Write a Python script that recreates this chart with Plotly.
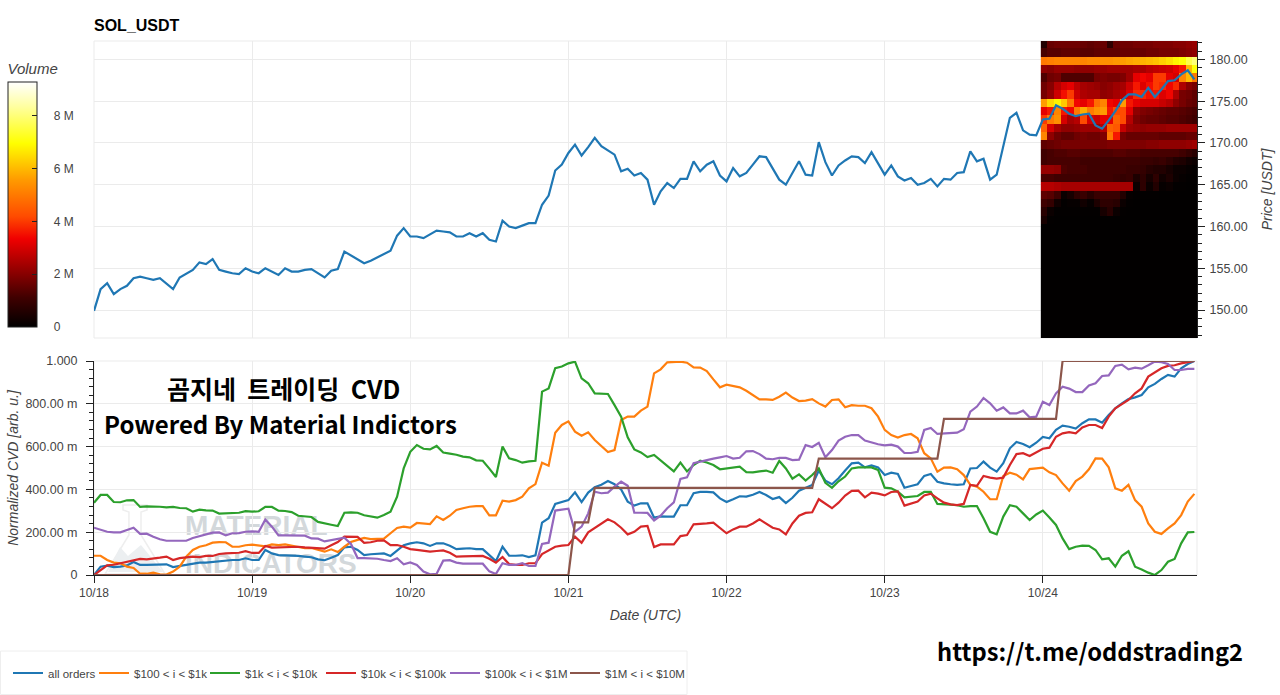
#!/usr/bin/env python3
"""SOL_USDT price with order book heatmap, and normalized CVD by order size."""

import pandas as pd
import plotly.graph_objects as go

# hourly prices, 10/18 00:00 to 10/24 23:00
PRICE = [
    149.9, 152.5, 153.2, 151.9, 152.5, 152.9, 153.8, 154.0, 153.8, 153.6, 153.8, 153.1,
    152.5, 153.9, 154.4, 154.8, 155.7, 155.5, 156.1, 154.8, 154.6, 154.4, 154.3, 155.0,
    154.6, 154.4, 155.0, 154.6, 154.2, 155.0, 154.6, 154.6, 154.8, 154.9, 154.4, 153.9,
    154.7, 154.9, 157.0, 156.5, 156.1, 155.6, 155.9, 156.3, 156.8, 157.1, 158.9, 159.8,
    158.8, 158.8, 158.6, 159.1, 159.5, 159.4, 159.3, 158.8, 158.8, 159.2, 158.8, 159.2,
    158.4, 158.2, 160.7, 160.0, 159.8, 160.1, 160.4, 160.4, 162.6, 163.7, 166.7, 167.4,
    168.8, 169.8, 168.5, 169.5, 170.6, 169.6, 169.1, 168.6, 166.6, 166.9, 166.1, 166.4,
    165.6, 162.6, 164.2, 165.2, 164.6, 165.7, 165.7, 167.8, 166.6, 167.4, 167.8, 166.1,
    165.4, 167.0, 166.0, 166.4, 167.4, 168.4, 168.3, 167.0, 165.6, 165.0, 166.4, 167.8,
    166.2, 166.1, 170.1, 167.7, 166.1, 167.3, 167.9, 168.4, 168.3, 167.6, 168.9, 167.5,
    166.2, 167.3, 166.0, 165.5, 165.8, 165.0, 165.2, 165.7, 164.8, 165.7, 165.6, 166.4,
    166.5, 169.0, 167.8, 168.1, 165.6, 166.2, 169.6, 173.0, 173.6, 171.5, 171.0, 170.9,
    172.8, 172.9, 174.5, 174.1, 173.5, 173.2, 173.4, 173.5, 172.1, 171.7, 172.7, 173.8,
    175.1, 175.8, 175.8, 175.5, 176.6, 175.5, 176.4, 177.4, 177.5, 178.2, 178.7, 177.6,
]

ALL_ORDERS = [
    0.000, 0.039, 0.044, 0.037, 0.039, 0.045, 0.061, 0.047, 0.047, 0.047, 0.048, 0.050,
    0.037, 0.042, 0.050, 0.055, 0.058, 0.058, 0.061, 0.067, 0.069, 0.070, 0.070, 0.078,
    0.070, 0.070, 0.117, 0.101, 0.093, 0.092, 0.093, 0.089, 0.086, 0.083, 0.073, 0.069,
    0.081, 0.093, 0.129, 0.132, 0.117, 0.093, 0.097, 0.100, 0.101, 0.089, 0.112, 0.139,
    0.148, 0.153, 0.148, 0.136, 0.148, 0.148, 0.137, 0.121, 0.123, 0.125, 0.121, 0.121,
    0.093, 0.065, 0.132, 0.090, 0.090, 0.092, 0.084, 0.092, 0.245, 0.265, 0.332, 0.340,
    0.350, 0.386, 0.341, 0.385, 0.410, 0.422, 0.439, 0.424, 0.400, 0.343, 0.324, 0.335,
    0.335, 0.268, 0.274, 0.273, 0.273, 0.326, 0.326, 0.382, 0.388, 0.388, 0.386, 0.358,
    0.341, 0.354, 0.368, 0.366, 0.375, 0.388, 0.374, 0.355, 0.364, 0.336, 0.361, 0.394,
    0.407, 0.421, 0.488, 0.441, 0.424, 0.452, 0.488, 0.522, 0.525, 0.503, 0.512, 0.503,
    0.467, 0.478, 0.472, 0.408, 0.416, 0.424, 0.463, 0.472, 0.436, 0.428, 0.424, 0.421,
    0.424, 0.498, 0.500, 0.530, 0.502, 0.483, 0.522, 0.592, 0.622, 0.612, 0.597, 0.618,
    0.645, 0.639, 0.678, 0.698, 0.693, 0.684, 0.709, 0.727, 0.727, 0.712, 0.748, 0.779,
    0.802, 0.822, 0.830, 0.841, 0.877, 0.893, 0.916, 0.935, 0.927, 0.966, 0.986, 1.000,
]

ORDERS_100_1K = [
    0.090, 0.090, 0.070, 0.058, 0.055, 0.039, 0.033, 0.006, 0.006, 0.011, 0.003, 0.002,
    0.016, 0.039, 0.086, 0.117, 0.132, 0.139, 0.151, 0.154, 0.153, 0.132, 0.132, 0.139,
    0.142, 0.139, 0.134, 0.143, 0.140, 0.143, 0.137, 0.131, 0.125, 0.126, 0.117, 0.109,
    0.120, 0.107, 0.132, 0.154, 0.164, 0.173, 0.168, 0.168, 0.170, 0.195, 0.220, 0.226,
    0.221, 0.243, 0.241, 0.238, 0.274, 0.257, 0.277, 0.304, 0.312, 0.319, 0.322, 0.322,
    0.279, 0.279, 0.347, 0.343, 0.350, 0.366, 0.405, 0.425, 0.525, 0.511, 0.665, 0.701,
    0.718, 0.670, 0.651, 0.667, 0.631, 0.604, 0.575, 0.584, 0.724, 0.740, 0.740, 0.768,
    0.787, 0.942, 0.961, 0.994, 0.994, 0.997, 0.992, 0.970, 0.969, 0.953, 0.914, 0.877,
    0.889, 0.883, 0.877, 0.861, 0.841, 0.821, 0.821, 0.818, 0.833, 0.852, 0.829, 0.813,
    0.815, 0.822, 0.802, 0.787, 0.818, 0.821, 0.784, 0.794, 0.791, 0.791, 0.779, 0.740,
    0.678, 0.654, 0.642, 0.654, 0.659, 0.639, 0.569, 0.545, 0.483, 0.502, 0.503, 0.494,
    0.467, 0.421, 0.413, 0.389, 0.354, 0.354, 0.463, 0.478, 0.469, 0.447, 0.495, 0.500,
    0.502, 0.480, 0.467, 0.428, 0.394, 0.439, 0.460, 0.494, 0.545, 0.544, 0.503, 0.405,
    0.394, 0.421, 0.350, 0.319, 0.241, 0.202, 0.192, 0.218, 0.241, 0.280, 0.343, 0.379,
]

ORDERS_1K_10K = [
    0.338, 0.374, 0.374, 0.341, 0.340, 0.349, 0.350, 0.318, 0.321, 0.321, 0.319, 0.316,
    0.318, 0.313, 0.312, 0.296, 0.305, 0.302, 0.301, 0.287, 0.288, 0.290, 0.291, 0.298,
    0.296, 0.298, 0.318, 0.318, 0.301, 0.299, 0.294, 0.277, 0.273, 0.271, 0.248, 0.240,
    0.235, 0.229, 0.291, 0.293, 0.291, 0.279, 0.274, 0.268, 0.280, 0.296, 0.366, 0.498,
    0.576, 0.607, 0.590, 0.587, 0.603, 0.572, 0.567, 0.562, 0.553, 0.550, 0.536, 0.534,
    0.497, 0.458, 0.600, 0.545, 0.537, 0.525, 0.531, 0.534, 0.857, 0.872, 0.966, 0.974,
    0.989, 0.997, 0.919, 0.896, 0.849, 0.847, 0.846, 0.794, 0.740, 0.643, 0.587, 0.573,
    0.551, 0.561, 0.534, 0.509, 0.484, 0.525, 0.484, 0.514, 0.534, 0.526, 0.514, 0.494,
    0.497, 0.500, 0.506, 0.481, 0.480, 0.484, 0.488, 0.478, 0.533, 0.498, 0.450, 0.470,
    0.441, 0.467, 0.498, 0.431, 0.407, 0.438, 0.460, 0.498, 0.503, 0.503, 0.503, 0.491,
    0.408, 0.405, 0.389, 0.363, 0.366, 0.369, 0.388, 0.388, 0.332, 0.332, 0.329, 0.326,
    0.319, 0.322, 0.322, 0.265, 0.202, 0.190, 0.273, 0.326, 0.319, 0.288, 0.257, 0.283,
    0.301, 0.269, 0.234, 0.171, 0.121, 0.132, 0.137, 0.136, 0.117, 0.073, 0.078, 0.039,
    0.090, 0.111, 0.039, 0.026, 0.011, 0.000, 0.023, 0.062, 0.075, 0.148, 0.199, 0.201,
]

ORDERS_10K_100K = [
    0.000, 0.023, 0.045, 0.048, 0.055, 0.059, 0.067, 0.075, 0.073, 0.076, 0.081, 0.086,
    0.070, 0.079, 0.081, 0.086, 0.084, 0.089, 0.089, 0.098, 0.101, 0.103, 0.104, 0.111,
    0.103, 0.103, 0.136, 0.128, 0.129, 0.132, 0.132, 0.132, 0.129, 0.126, 0.123, 0.123,
    0.139, 0.154, 0.179, 0.179, 0.178, 0.150, 0.153, 0.160, 0.162, 0.140, 0.140, 0.132,
    0.121, 0.117, 0.112, 0.109, 0.112, 0.115, 0.104, 0.086, 0.087, 0.087, 0.089, 0.089,
    0.076, 0.058, 0.084, 0.051, 0.047, 0.047, 0.055, 0.055, 0.098, 0.117, 0.132, 0.137,
    0.140, 0.179, 0.151, 0.199, 0.218, 0.241, 0.260, 0.246, 0.221, 0.190, 0.202, 0.226,
    0.229, 0.131, 0.143, 0.143, 0.143, 0.182, 0.187, 0.237, 0.238, 0.241, 0.245, 0.218,
    0.195, 0.213, 0.226, 0.226, 0.241, 0.260, 0.241, 0.221, 0.213, 0.190, 0.241, 0.277,
    0.290, 0.293, 0.354, 0.335, 0.312, 0.338, 0.371, 0.393, 0.394, 0.363, 0.385, 0.380,
    0.372, 0.388, 0.391, 0.324, 0.333, 0.343, 0.372, 0.380, 0.358, 0.338, 0.330, 0.327,
    0.332, 0.421, 0.417, 0.463, 0.455, 0.450, 0.455, 0.514, 0.565, 0.569, 0.556, 0.575,
    0.590, 0.595, 0.646, 0.662, 0.668, 0.662, 0.690, 0.701, 0.701, 0.687, 0.740, 0.779,
    0.798, 0.818, 0.849, 0.872, 0.927, 0.946, 0.966, 0.977, 0.980, 0.989, 0.995, 1.000,
]

ORDERS_100K_1M = [
    0.221, 0.210, 0.202, 0.199, 0.199, 0.210, 0.221, 0.192, 0.193, 0.179, 0.167, 0.160,
    0.160, 0.160, 0.160, 0.173, 0.182, 0.190, 0.198, 0.199, 0.185, 0.195, 0.196, 0.202,
    0.204, 0.202, 0.259, 0.226, 0.185, 0.185, 0.185, 0.185, 0.184, 0.171, 0.170, 0.157,
    0.162, 0.168, 0.174, 0.145, 0.079, 0.079, 0.079, 0.076, 0.070, 0.065, 0.078, 0.050,
    0.059, 0.047, 0.016, 0.003, 0.006, 0.067, 0.069, 0.058, 0.053, 0.053, 0.053, 0.053,
    0.017, 0.005, 0.055, 0.047, 0.047, 0.055, 0.042, 0.042, 0.145, 0.151, 0.301, 0.307,
    0.310, 0.202, 0.226, 0.288, 0.389, 0.382, 0.385, 0.413, 0.436, 0.417, 0.291, 0.291,
    0.290, 0.255, 0.277, 0.312, 0.339, 0.449, 0.456, 0.522, 0.530, 0.536, 0.544, 0.550,
    0.556, 0.544, 0.548, 0.578, 0.579, 0.565, 0.544, 0.541, 0.547, 0.547, 0.537, 0.539,
    0.607, 0.598, 0.618, 0.550, 0.584, 0.628, 0.646, 0.654, 0.654, 0.628, 0.618, 0.611,
    0.606, 0.609, 0.600, 0.570, 0.570, 0.576, 0.678, 0.687, 0.659, 0.660, 0.662, 0.665,
    0.681, 0.763, 0.787, 0.827, 0.802, 0.768, 0.783, 0.755, 0.755, 0.768, 0.737, 0.740,
    0.810, 0.794, 0.849, 0.880, 0.871, 0.855, 0.855, 0.886, 0.896, 0.930, 0.933, 0.977,
    0.983, 0.961, 0.969, 0.964, 0.980, 0.997, 0.995, 0.986, 0.958, 0.958, 0.963, 0.963,
]

ORDERS_1M_10M = [
    0.000, 0.000, 0.000, 0.000, 0.000, 0.000, 0.000, 0.000, 0.000, 0.000, 0.000, 0.000,
    0.000, 0.000, 0.000, 0.000, 0.000, 0.000, 0.000, 0.000, 0.000, 0.000, 0.000, 0.000,
    0.000, 0.000, 0.000, 0.000, 0.000, 0.000, 0.000, 0.000, 0.000, 0.000, 0.000, 0.000,
    0.000, 0.000, 0.000, 0.000, 0.000, 0.000, 0.000, 0.000, 0.000, 0.000, 0.000, 0.000,
    0.000, 0.000, 0.000, 0.000, 0.000, 0.000, 0.000, 0.000, 0.000, 0.000, 0.000, 0.000,
    0.000, 0.000, 0.000, 0.000, 0.000, 0.000, 0.000, 0.000, 0.000, 0.000, 0.000, 0.000,
    0.000, 0.246, 0.246, 0.246, 0.407, 0.407, 0.407, 0.407, 0.407, 0.407, 0.407, 0.407,
    0.407, 0.407, 0.407, 0.407, 0.407, 0.407, 0.407, 0.407, 0.407, 0.407, 0.407, 0.407,
    0.407, 0.407, 0.407, 0.407, 0.407, 0.407, 0.407, 0.407, 0.407, 0.407, 0.407, 0.407,
    0.407, 0.407, 0.544, 0.544, 0.544, 0.544, 0.544, 0.544, 0.544, 0.544, 0.544, 0.544,
    0.544, 0.544, 0.544, 0.544, 0.544, 0.544, 0.544, 0.544, 0.544, 0.730, 0.730, 0.730,
    0.730, 0.730, 0.730, 0.730, 0.730, 0.730, 0.730, 0.730, 0.730, 0.730, 0.730, 0.730,
    0.730, 0.730, 0.730, 1.000, 1.000, 1.000, 1.000, 1.000, 1.000, 1.000, 1.000, 1.000,
    1.000, 1.000, 1.000, 1.000, 1.000, 1.000, 1.000, 1.000, 1.000, 1.000, 1.000, 1.000,
]

SERIES_NAMES = ["all orders", "$100 < i < $1k", "$1k < i < $10k", "$10k < i < $100k",
                "$100k < i < $1M", "$1M < i < $10M"]
SERIES_COLORS = ["#1f77b4", "#ff7f0e", "#2ca02c", "#d62728", "#9467bd", "#8c564b"]
# legend text widths, tightened so the entries sit as close as in the original
LEGEND_WIDTHS = [41, 66, 71, 79, 75, 85]

# price bin centres for the heatmap rows, top to bottom
VOLUME_PRICES = [181.82, 180.82, 179.82, 178.82, 177.82, 176.82, 175.82, 174.82, 173.82,
                 172.82, 171.82, 170.82, 169.82, 168.82, 167.82, 166.82, 165.82, 164.82,
                 163.82, 162.82, 161.82, 160.82, 159.82, 158.82, 157.82, 156.82, 155.82,
                 154.82, 153.82, 152.82, 151.82, 150.82, 149.82, 148.82, 147.82, 146.82]

# volume in millions, one row per price bin, one column per hour of 10/24
EMPTY = [0.03, 0.03, 0.03, 0.03, 0.03, 0.03, 0.03, 0.03, 0.03, 0.03, 0.03, 0.03,
         0.03, 0.03, 0.03, 0.03, 0.03, 0.03, 0.03, 0.03, 0.03, 0.03, 0.03, 0.03]
VOLUME = [
    [0.6, 1.6, 1.7, 1.7, 1.7, 1.7, 1.6, 1.5, 1.6, 1.6, 0.8, 1.6, 1.7, 1.7, 1.8, 1.8, 1.8, 1.9, 1.9, 1.9, 2.0, 2.0, 2.1, 2.2],
    [1.2, 1.4, 1.4, 1.5, 1.5, 1.5, 1.4, 1.4, 1.5, 1.5, 1.5, 1.5, 1.6, 1.6, 1.6, 1.6, 1.7, 1.7, 1.8, 1.8, 1.8, 1.9, 2.0, 2.1],
    [5.0, 5.1, 5.2, 5.2, 5.2, 5.2, 5.2, 5.3, 5.3, 5.4, 5.4, 5.5, 5.6, 5.7, 5.8, 5.9, 6.0, 6.1, 6.3, 6.5, 6.8, 7.0, 7.6, 8.0],
    [2.1, 2.0, 2.2, 2.2, 2.2, 2.1, 2.1, 2.1, 2.2, 2.2, 2.3, 2.3, 2.3, 2.3, 2.4, 2.4, 2.6, 2.7, 2.8, 2.9, 3.2, 3.6, 6.0, 7.0],
    [1.3, 1.7, 1.8, 1.3, 1.3, 1.3, 1.3, 1.3, 1.8, 1.9, 1.8, 1.8, 1.9, 2.3, 3.2, 3.4, 3.2, 4.0, 4.0, 3.2, 3.0, 5.2, 6.0, 5.0],
    [1.7, 2.0, 2.6, 3.0, 3.2, 2.7, 2.4, 2.3, 2.2, 2.0, 2.1, 2.3, 2.4, 2.9, 3.6, 3.1, 3.5, 4.0, 3.8, 3.4, 3.8, 2.5, 2.0, 1.8],
    [1.8, 2.2, 2.9, 3.5, 4.0, 2.9, 2.5, 2.4, 2.4, 2.1, 2.2, 2.4, 2.6, 3.1, 3.8, 3.8, 3.5, 3.6, 3.1, 3.4, 2.5, 1.8, 1.7, 1.5],
    [5.6, 6.4, 6.8, 6.2, 5.0, 3.4, 3.2, 3.6, 4.8, 5.2, 3.4, 3.2, 5.6, 3.6, 3.2, 3.0, 3.0, 3.0, 2.8, 2.6, 2.1, 1.8, 1.6, 1.5],
    [3.2, 3.6, 5.2, 3.6, 3.4, 5.0, 5.8, 5.0, 5.4, 5.6, 3.6, 4.2, 4.2, 3.2, 2.1, 1.9, 1.8, 1.7, 1.6, 1.5, 1.5, 1.4, 1.3, 1.2],
    [4.0, 5.0, 5.4, 3.0, 2.4, 2.6, 4.2, 3.0, 2.8, 3.2, 3.2, 4.6, 4.2, 2.6, 1.9, 1.7, 1.6, 1.6, 1.5, 1.4, 1.4, 1.3, 1.2, 1.1],
    [4.6, 3.0, 2.4, 2.1, 2.1, 2.2, 2.3, 2.3, 2.3, 2.6, 4.6, 4.4, 2.8, 2.3, 2.2, 2.1, 2.2, 2.2, 2.2, 2.3, 2.3, 2.3, 2.3, 2.3],
    [5.2, 2.1, 1.7, 1.5, 1.5, 1.7, 1.8, 1.7, 1.7, 1.9, 5.0, 3.6, 1.8, 1.6, 1.6, 1.6, 1.6, 1.6, 1.5, 1.5, 1.5, 1.5, 1.6, 1.6],
    [1.5, 1.6, 1.7, 1.8, 1.8, 1.8, 1.8, 1.8, 1.8, 1.8, 1.9, 1.9, 1.9, 1.9, 1.9, 1.9, 2.0, 2.0, 2.1, 2.1, 2.1, 2.1, 2.2, 2.3],
    [1.1, 1.2, 1.3, 1.3, 1.4, 1.4, 1.3, 1.3, 1.3, 1.3, 1.3, 1.4, 1.4, 1.3, 1.3, 1.2, 1.2, 1.2, 1.2, 1.2, 1.2, 1.1, 0.9, 0.7],
    [1.1, 1.2, 1.2, 1.2, 1.2, 1.2, 1.1, 1.1, 1.1, 1.1, 1.1, 1.1, 1.1, 1.1, 1.1, 1.0, 1.0, 0.9, 1.0, 0.8, 0.6, 0.5, 0.3, 0.2],
    [2.2, 2.2, 2.1, 1.3, 1.2, 1.2, 1.2, 1.1, 1.1, 1.1, 1.1, 1.1, 1.1, 1.0, 1.0, 0.9, 0.7, 0.6, 0.6, 0.4, 0.2, 0.2, 0.1, 0.05],
    [1.2, 1.2, 1.1, 1.1, 1.1, 1.1, 1.1, 1.1, 1.1, 1.1, 1.1, 1.0, 0.9, 1.0, 0.5, 0.8, 0.4, 0.8, 0.3, 0.5, 0.2, 0.1, 0.05, 0.05],
    [2.6, 2.6, 2.5, 2.4, 2.4, 2.4, 2.4, 2.4, 2.4, 2.4, 2.4, 2.4, 2.4, 2.4, 0.2, 0.8, 0.2, 0.6, 0.1, 0.2, 0.05, 0.05, 0.03, 0.03],
    [1.5, 1.4, 1.1, 0.2, 0.4, 0.8, 1.0, 0.7, 1.0, 1.0, 1.0, 1.0, 0.6, 0.1, 0.05, 0.05, 0.05, 0.05, 0.03, 0.03, 0.03, 0.03, 0.03, 0.03],
    [1.1, 0.9, 0.3, 0.05, 0.1, 0.1, 0.3, 0.1, 0.5, 0.8, 0.8, 0.7, 0.2, 0.05, 0.03, 0.03, 0.03, 0.03, 0.03, 0.03, 0.03, 0.03, 0.03, 0.03],
    [0.7, 0.2, 0.05, 0.05, 0.05, 0.05, 0.05, 0.05, 0.05, 0.4, 0.7, 0.2, 0.05, 0.03, 0.03, 0.03, 0.03, 0.03, 0.03, 0.03, 0.03, 0.03, 0.03, 0.03],
    [0.4, 0.05, 0.03, 0.03, 0.03, 0.03, 0.03, 0.03, 0.03, 0.03, 0.03, 0.03, 0.03, 0.03, 0.03, 0.03, 0.03, 0.03, 0.03, 0.03, 0.03, 0.03, 0.03, 0.03],
    EMPTY, EMPTY, EMPTY, EMPTY, EMPTY, EMPTY, EMPTY, EMPTY, EMPTY, EMPTY, EMPTY, EMPTY, EMPTY, EMPTY,
]

PRICE_TICKS = [150, 155, 160, 165, 170, 175, 180]
PRICE_LABELS = ["150.00", "155.00", "160.00", "165.00", "170.00", "175.00", "180.00"]
CVD_TICKS = [0, 0.2, 0.4, 0.6, 0.8, 1.0]
CVD_LABELS = ["0", "200.00 m", "400.00 m", "600.00 m", "800.00 m", "1.000"]
VOLUME_TICKS = [0, 2, 4, 6, 8]
# the colorbar has no label standoff, so the gap to the bar is made with spaces
VOLUME_LABELS = ["&nbsp;&nbsp;&nbsp;&nbsp;0", "&nbsp;&nbsp;&nbsp;&nbsp;2 M", "&nbsp;&nbsp;&nbsp;&nbsp;4 M",
                 "&nbsp;&nbsp;&nbsp;&nbsp;6 M", "&nbsp;&nbsp;&nbsp;&nbsp;8 M"]

HOURS = pd.date_range("2024-10-18 00:00", periods=len(PRICE), freq="h")
VOLUME_HOURS = pd.date_range("2024-10-24 00:12", periods=24, freq="h")

# plot area in page pixels, everything else is placed from these
WIDTH, HEIGHT = 1280, 695
LEFT, RIGHT, TOP, BOTTOM = 94, 1197, 41, 575
FONT = "Liberation Sans"
KR_FONT = "Noto Sans CJK KR"
TEXT_COLOR = "#444444"
GRID_COLOR = "#ebebeb"


def px(x):
    return (x - LEFT) / (RIGHT - LEFT)


def py(y):
    return (BOTTOM - y) / (BOTTOM - TOP)


fig = go.Figure()

fig.add_trace(go.Heatmap(
    x=VOLUME_HOURS, y=VOLUME_PRICES, z=VOLUME, xaxis="x", yaxis="y", zmin=0, zmax=9.28,
    colorscale=[[0, "#000000"], [0.12, "#400000"], [0.22, "#8a0000"], [0.36, "#f00000"],
                [0.45, "#ff4a00"], [0.6, "#ff9a00"], [0.75, "#ffff00"], [0.9, "#ffffa0"],
                [1, "#ffffff"]],
    colorbar=dict(
        xref="paper", yref="paper", x=px(8), xanchor="left",
        y=py(327), yanchor="bottom", lenmode="pixels", len=267,
        thicknessmode="pixels", thickness=29, xpad=0, ypad=0,
        outlinecolor="#222222", outlinewidth=1,
        ticks="inside", ticklen=5, tickcolor="#222222", tickvals=VOLUME_TICKS,
        ticktext=VOLUME_LABELS, tickfont=dict(family=FONT, size=12, color=TEXT_COLOR),
        title=dict(text="Volume", side="top",
                   font=dict(family=FONT, size=15, color=TEXT_COLOR, style="italic")),
    ),
    showlegend=False,
))
fig.add_trace(go.Scatter(x=HOURS, y=PRICE, mode="lines", xaxis="x", yaxis="y",
                         line=dict(color=SERIES_COLORS[0], width=2.2), showlegend=False))

all_series = [ALL_ORDERS, ORDERS_100_1K, ORDERS_1K_10K, ORDERS_10K_100K, ORDERS_100K_1M, ORDERS_1M_10M]
for name, color, values, entry in zip(SERIES_NAMES, SERIES_COLORS, all_series, LEGEND_WIDTHS):
    fig.add_trace(go.Scatter(x=HOURS, y=values, mode="lines", name=name, xaxis="x2", yaxis="y2",
                             line=dict(color=color, width=2.2), legendwidth=entry))

x_range = [HOURS[0], pd.Timestamp("2024-10-24 23:24")]
shared_x = dict(range=x_range, dtick=86400000, showgrid=True, gridcolor=GRID_COLOR, gridwidth=1,
                zeroline=False)

# panel outlines and the legend box
shapes = [
    dict(type="rect", xref="paper", yref="paper", x0=0, x1=1, y0=py(338), y1=py(41),
         line=dict(color=GRID_COLOR, width=1), layer="below"),
    dict(type="rect", xref="paper", yref="paper", x0=0, x1=1, y0=py(575), y1=py(361),
         line=dict(color=GRID_COLOR, width=1), layer="below"),
    dict(type="rect", xref="paper", yref="paper", x0=px(0.5), x1=px(687), y0=py(694.5), y1=py(651),
         line=dict(color="#eeeeee", width=1), layer="below"),
]

# faint watermark under the lines
for text, y in [("MATERIAL", 522), ("INDICATORS", 560)]:
    shapes.append(dict(type="rect", xref="paper", yref="paper", x0=px(182), x1=px(360),
                       y0=py(y + 12), y1=py(y - 12), line=dict(width=0),
                       fillcolor="rgba(0,0,0,0)", layer="below",
                       label=dict(text=f"<b>{text}</b>", textposition="middle left", padding=0,
                                  font=dict(family=FONT, size=28, color="#d3d8db"))))
flask = [(123, 505), (123, 510), (129, 512), (129, 535), (105, 574), (165, 574), (141, 535), (141, 512), (147, 510), (147, 505)]
path = "M " + " L ".join(f"{px(x):.4f} {py(y):.4f}" for x, y in flask) + " Z"
shapes.append(dict(type="path", xref="paper", yref="paper", path=path,
                   line=dict(color="#eeeeee", width=1.5), layer="below"))
hill = [(108, 572), (120, 547), (128, 556), (141, 545), (163, 572)]
path = "M " + " L ".join(f"{px(x):.4f} {py(y):.4f}" for x, y in hill) + " Z"
shapes.append(dict(type="path", xref="paper", yref="paper", path=path, fillcolor="#eceff1",
                   line=dict(width=0), layer="below"))

annotations = [
    dict(text="<b>곰지네&nbsp;&nbsp;트레이딩&nbsp;&nbsp;CVD</b>", x=px(283), y=py(388), font=dict(family=KR_FONT, size=25, color="black")),
    dict(text="<b>Powered By Material Indictors</b>", x=px(280), y=py(423.5), font=dict(family=KR_FONT, size=24, color="black")),
    dict(text="<b>https://t.me/oddstrading2</b>", x=px(1090), y=py(651), font=dict(family=KR_FONT, size=23.7, color="black")),
]
for note in annotations:
    note.update(xref="paper", yref="paper", showarrow=False, xanchor="center", yanchor="middle")

fig.update_layout(
    width=WIDTH, height=HEIGHT,
    margin=dict(l=LEFT, r=WIDTH - RIGHT, t=TOP, b=HEIGHT - BOTTOM, autoexpand=False),
    paper_bgcolor="white", plot_bgcolor="white",
    font=dict(family=FONT, size=12, color=TEXT_COLOR),
    title=dict(text="<b>SOL_USDT</b>", x=LEFT / WIDTH, xanchor="left", y=1 - 25 / HEIGHT, yanchor="middle",
               font=dict(family=FONT, size=16, color="black")),
    xaxis=dict(domain=[0, 1], anchor="y", showticklabels=False, ticks="", **shared_x),
    yaxis=dict(domain=[py(338), 1], anchor="x", side="right", range=[146.65, 182.2],
               tickvals=PRICE_TICKS, ticktext=PRICE_LABELS, ticks="outside", ticklen=7,
               tickcolor="#222222", showgrid=True, gridcolor=GRID_COLOR, zeroline=False,
               showline=True, linecolor="#222222", automargin=True, ticklabelstandoff=2,
               minor=dict(ticks="outside", ticklen=4, dtick=1, tick0=0, tickcolor="#222222", showgrid=False),
               tickfont=dict(size=12.5, color=TEXT_COLOR),
               title=dict(text="Price [USDT]", standoff=15,
                          font=dict(family=FONT, size=14, color=TEXT_COLOR, style="italic"))),
    xaxis2=dict(domain=[0, 1], anchor="y2", tickformat="%m/%d", ticks="outside", ticklen=7,
                tickcolor="#222222", showline=True, linecolor="#222222", automargin=True,
                tickfont=dict(size=12, color=TEXT_COLOR),
                title=dict(text="Date (UTC)", standoff=10,
                           font=dict(family=FONT, size=14, color=TEXT_COLOR, style="italic")),
                **shared_x),
    yaxis2=dict(domain=[0, py(361)], anchor="x2", range=[0, 1], tickvals=CVD_TICKS, ticktext=CVD_LABELS,
                ticks="outside", ticklen=7, tickcolor="#222222", showgrid=True, gridcolor=GRID_COLOR,
                zeroline=False, showline=True, linecolor="#222222", automargin=True, ticklabelstandoff=6,
                minor=dict(ticks="outside", ticklen=4, dtick=0.04, tick0=0, tickcolor="#222222", showgrid=False),
                tickfont=dict(size=12.5, color=TEXT_COLOR),
                title=dict(text="Normalized CVD [arb. u.]", standoff=3,
                           font=dict(family=FONT, size=14, color=TEXT_COLOR, style="italic"))),
    legend=dict(orientation="h", xref="container", yref="container", x=8 / WIDTH, xanchor="left",
                y=1 - 673 / HEIGHT, yanchor="middle", bgcolor="rgba(0,0,0,0)", borderwidth=0,
                font=dict(family=FONT, size=11.5, color=TEXT_COLOR)),
    shapes=shapes,
    annotations=annotations,
)

# the browser's default body margin would shift the whole page by 8px
fig.write_html("out.html", post_script="document.body.style.margin = '0';",
               config={"displayModeBar": False})
